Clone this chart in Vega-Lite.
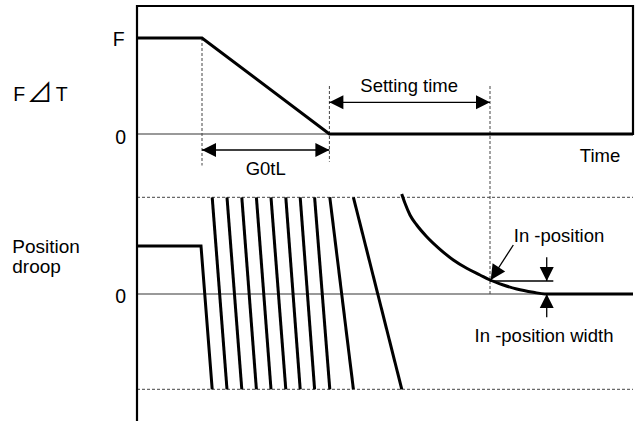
{
  "$schema": "https://vega.github.io/schema/vega-lite/v6.json",
  "width": 496,
  "height": 415,
  "autosize": {"type": "none"},
  "padding": {"left": 137, "top": 6, "right": 2, "bottom": 0},
  "background": "white",
  "config": {"view": {"stroke": null}, "text": {"font": "Liberation Sans, Arial, sans-serif", "color": "black"}},
  "datasets": {
    "frame": [
      {"i": 0, "x": 0, "y": 0}, {"i": 1, "x": 0, "y": 83}, {"i": 2, "x": 124, "y": 83}, {"i": 3, "x": 124, "y": 57.4}
    ],
    "signal": [
      {"seg": "F", "i": 0, "x": 0, "y": 76.6}, {"seg": "F", "i": 1, "x": 16.25, "y": 76.6},
      {"seg": "F", "i": 2, "x": 48.1, "y": 57.4}, {"seg": "F", "i": 3, "x": 124, "y": 57.4},
      {"seg": "droop", "i": 0, "x": 0, "y": 35}, {"seg": "droop", "i": 1, "x": 16, "y": 35},
      {"seg": "droop", "i": 2, "x": 18.8, "y": 6.34}
    ],
    "settle": [
      {"i": 0, "x": 66.18, "y": 45.4}, {"i": 1, "x": 67.0, "y": 43.54}, {"i": 2, "x": 68.25, "y": 41.2},
      {"i": 3, "x": 69.93, "y": 39.2}, {"i": 4, "x": 72.43, "y": 36.86}, {"i": 5, "x": 75.75, "y": 34.34},
      {"i": 6, "x": 79.08, "y": 32.2}, {"i": 7, "x": 82.43, "y": 30.54}, {"i": 8, "x": 85.75, "y": 29.2},
      {"i": 9, "x": 88.25, "y": 28.2}, {"i": 10, "x": 91.58, "y": 27.2}, {"i": 11, "x": 94.93, "y": 26.4},
      {"i": 12, "x": 99.08, "y": 25.74}, {"i": 13, "x": 102, "y": 25.4}, {"i": 14, "x": 124, "y": 25.4}
    ],
    "sweeps": [
      {"x": 18.8, "y": 44.74, "x2": 22.5, "y2": 6.34},
      {"x": 22.5, "y": 44.74, "x2": 26.2, "y2": 6.34},
      {"x": 26.2, "y": 44.74, "x2": 29.85, "y2": 6.34},
      {"x": 29.85, "y": 44.74, "x2": 33.5, "y2": 6.34},
      {"x": 33.5, "y": 44.74, "x2": 37.2, "y2": 6.34},
      {"x": 37.2, "y": 44.74, "x2": 40.8, "y2": 6.34},
      {"x": 40.8, "y": 44.74, "x2": 44.4, "y2": 6.34},
      {"x": 44.4, "y": 44.74, "x2": 48.2, "y2": 6.34},
      {"x": 48.2, "y": 44.74, "x2": 54.1, "y2": 6.34},
      {"x": 54.1, "y": 44.74, "x2": 66.2, "y2": 6.34}
    ],
    "zeros": [
      {"x": 0, "y": 57.4, "x2": 124, "y2": 57.4},
      {"x": 0, "y": 25.4, "x2": 124, "y2": 25.4}
    ],
    "guides": [
      {"x": 0, "y": 44.74, "x2": 124, "y2": 44.74},
      {"x": 0, "y": 6.34, "x2": 124, "y2": 6.34},
      {"x": 16.25, "y": 76.6, "x2": 16.25, "y2": 51.1},
      {"x": 48.1, "y": 67, "x2": 48.1, "y2": 51.86},
      {"x": 88.25, "y": 67, "x2": 88.25, "y2": 25.4}
    ],
    "dims": [
      {"x": 16.25, "y": 54.2, "x2": 48.1, "y2": 54.2},
      {"x": 48.1, "y": 63.74, "x2": 88.25, "y2": 63.74},
      {"x": 94.08, "y": 35.2, "x2": 88.43, "y2": 28.2},
      {"x": 88.25, "y": 28, "x2": 104.08, "y2": 28},
      {"x": 102.43, "y": 32.74, "x2": 102.43, "y2": 28},
      {"x": 102.43, "y": 25.4, "x2": 102.43, "y2": 20.74}
    ],
    "heads": [
      {"x": 16.25, "y": 54.2, "dir": "left"}, {"x": 48.1, "y": 54.2, "dir": "right"},
      {"x": 48.1, "y": 63.74, "dir": "left"}, {"x": 88.25, "y": 63.74, "dir": "right"},
      {"x": 102.43, "y": 28, "dir": "down"}, {"x": 102.43, "y": 25.4, "dir": "up"}
    ],
    "leader": [{"x": 88.43, "y": 28.2}],
    "notes": [
      {"label": "Setting time", "x": 68.05, "y": 65.86},
      {"label": "G0tL", "x": 32.18, "y": 49.2},
      {"label": "Time", "x": 115.75, "y": 51.86},
      {"label": "In -position", "x": 105.5, "y": 35.86},
      {"label": "In -position width", "x": 101.75, "y": 15.86}
    ],
    "ticks": [
      {"label": "F", "x": -3.1, "y": 75},
      {"label": "0", "x": -2.75, "y": 55.34},
      {"label": "0", "x": -2.75, "y": 23.54}
    ],
    "names": [
      {"label": "F", "x": -30.93, "y": 64},
      {"label": "T", "x": -20.3, "y": 64}
    ],
    "tri": [{"label": "⊿", "x": -24.3, "y": 64}],
    "droop": [{"label": "Position\ndroop", "x": -31.18, "y": 33.54}]
  },
  "encoding": {
    "x": {"field": "x", "type": "quantitative", "scale": {"domain": [0, 124], "nice": false, "zero": false}, "axis": null},
    "y": {"field": "y", "type": "quantitative", "scale": {"domain": [0, 83], "nice": false, "zero": false}, "axis": null}
  },
  "layer": [
    {"data": {"name": "zeros"}, "mark": {"type": "rule", "color": "#777777", "strokeWidth": 1.5},
     "encoding": {"x2": {"field": "x2"}, "y2": {"field": "y2"}}},
    {"data": {"name": "guides"}, "mark": {"type": "rule", "color": "#444444", "strokeWidth": 1, "strokeDash": [3, 2]},
     "encoding": {"x2": {"field": "x2"}, "y2": {"field": "y2"}}},
    {"data": {"name": "dims"}, "mark": {"type": "rule", "color": "black", "strokeWidth": 1.3},
     "encoding": {"x2": {"field": "x2"}, "y2": {"field": "y2"}}},
    {"data": {"name": "frame"}, "mark": {"type": "line", "color": "black", "strokeWidth": 2.2, "strokeCap": "square"},
     "encoding": {"order": {"field": "i"}}},
    {"data": {"name": "signal"}, "mark": {"type": "line", "color": "black", "strokeWidth": 3, "strokeJoin": "miter"},
     "encoding": {"detail": {"field": "seg"}, "order": {"field": "i"}}},
    {"data": {"name": "settle"}, "mark": {"type": "line", "color": "black", "strokeWidth": 3, "interpolate": "monotone"},
     "encoding": {"order": {"field": "i"}}},
    {"data": {"name": "sweeps"}, "mark": {"type": "rule", "color": "black", "strokeWidth": 3},
     "encoding": {"x2": {"field": "x2"}, "y2": {"field": "y2"}}},
    {"data": {"name": "heads"}, "mark": {"type": "point", "filled": true, "color": "black", "opacity": 1, "size": 784, "strokeWidth": 0},
     "encoding": {"shape": {"field": "dir", "type": "nominal", "legend": null,
       "scale": {"domain": ["left", "right", "up", "down"],
                 "range": ["M0,0L1,-0.5L1,0.5Z", "M0,0L-1,-0.5L-1,0.5Z", "M0,0L-0.5,1L0.5,1Z", "M0,0L-0.5,-1L0.5,-1Z"]}}}},
    {"data": {"name": "leader"}, "mark": {"type": "point", "filled": true, "color": "black", "opacity": 1, "size": 900, "strokeWidth": 0, "shape": "M0,0L-0.5,-1L0.5,-1Z", "angle": 33}},
    {"data": {"name": "notes"}, "mark": {"type": "text", "fontSize": 18.5, "align": "center", "baseline": "alphabetic"},
     "encoding": {"text": {"field": "label"}}},
    {"data": {"name": "ticks"}, "mark": {"type": "text", "fontSize": 19.5, "align": "right", "baseline": "alphabetic"},
     "encoding": {"text": {"field": "label"}}},
    {"data": {"name": "names"}, "mark": {"type": "text", "fontSize": 19.5, "align": "left", "baseline": "alphabetic"},
     "encoding": {"text": {"field": "label"}}},
    {"data": {"name": "tri"}, "mark": {"type": "text", "fontSize": 26, "font": "Noto Sans CJK JP", "align": "center", "baseline": "alphabetic", "dy": 1},
     "encoding": {"text": {"field": "label"}}},
    {"data": {"name": "droop"}, "mark": {"type": "text", "fontSize": 19, "align": "left", "baseline": "alphabetic", "lineBreak": "\n", "lineHeight": 19.5},
     "encoding": {"text": {"field": "label"}}}
  ]
}
